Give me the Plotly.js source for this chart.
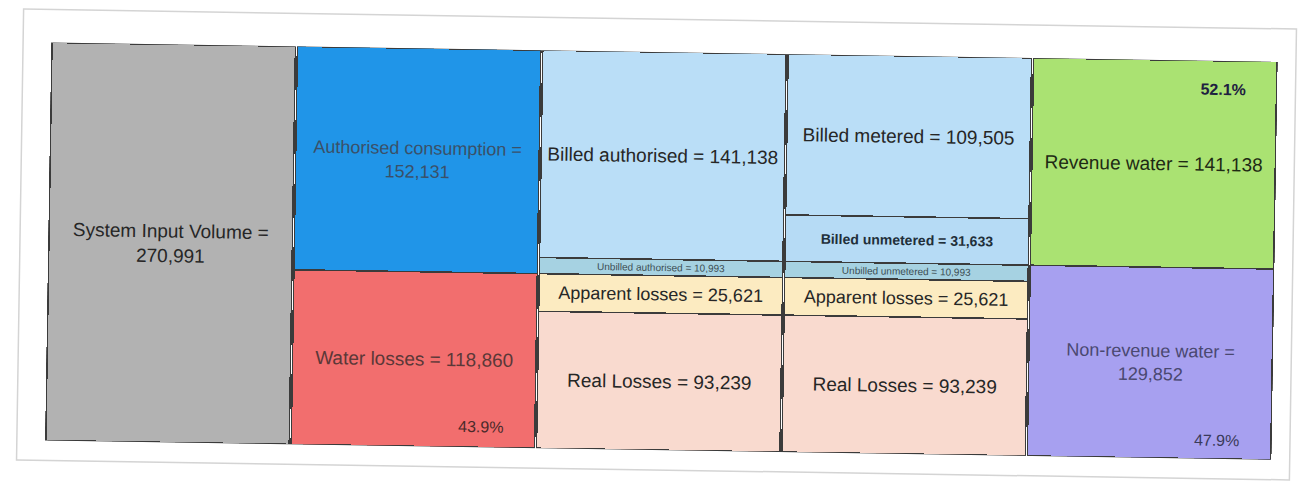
<!DOCTYPE html>
<html><head><meta charset="utf-8">
<script src="https://cdn.plot.ly/plotly-3.0.1.min.js"></script>
<style>
html,body{margin:0;padding:0;background:#fff;overflow:hidden;}
#chart{width:1308px;height:485px;transform:rotate(0.9deg);transform-origin:50% 50%;}
</style>
</head><body><div id="chart"></div>
<script>
// Water balance columns (left to right)
const columns = ['Input', 'Consumption', 'Billing', 'Detail', 'Revenue'];

// Segments, listed bottom-to-top within each column
const segColumn = ['Input', 'Consumption', 'Consumption', 'Billing', 'Billing', 'Billing', 'Billing',
                   'Detail', 'Detail', 'Detail', 'Detail', 'Detail', 'Revenue', 'Revenue'];
const segLabel = ['System Input Volume =<br>', 'Water losses = ', 'Authorised consumption =<br>',
                  'Real Losses = ', 'Apparent losses = ', 'Unbilled authorised = ', 'Billed authorised = ',
                  'Real Losses = ', 'Apparent losses = ', 'Unbilled unmetered = ', 'Billed unmetered = ', 'Billed metered = ',
                  'Non-revenue water =<br>', 'Revenue water = '];
const segValue = [270991, 118860, 152131,
                  93239, 25621, 10993, 141138,
                  93239, 25621, 10993, 31633, 109505,
                  129852, 141138];

// Percentage notes
const pctText = ['43.9%', '52.1%', '47.9%'];
const pctColumn = ['Consumption', 'Revenue', 'Revenue'];

// Styles (kept separate from data)
const segColor = ['#b2b2b2', '#f26e6e', '#2095e8',
                  '#f9dacf', '#fcebc1', '#a6d2e2', '#badef7',
                  '#f9dacf', '#fcebc1', '#a6d2e2', '#b6dbf5', '#badef7',
                  '#a7a0f0', '#aae272'];
const segFont = [19, 19, 18, 19, 18, 10, 19, 19, 18, 10, 14, 19, 18, 19];
const segBold = [false, false, false, false, false, false, false, false, false, false, true, false, false, false];
const segTextColor = ['#262626', '#5b3838', '#3a5068', '#262626', '#262626', '#3d4f55', '#262626',
                      '#262626', '#262626', '#3d4f55', '#1f2f3a', '#262626', '#4a4870', '#1e2a14'];

const fmt = v => v.toLocaleString('en-US');

const traces = segValue.map((v, i) => ({
  type: 'bar',
  x: [segColumn[i]],
  y: [v],
  text: [segLabel[i] + fmt(v)],
  textposition: 'inside',
  insidetextanchor: 'middle',
  constraintext: 'none',
  textfont: {family: 'Liberation Sans, Arial, sans-serif', size: segFont[i], color: segTextColor[i],
             weight: segBold[i] ? 'bold' : 'normal'},
  marker: {color: segColor[i], line: {color: '#3b3b3b', width: 1.5}},
  hoverinfo: 'skip',
  showlegend: false
}));

const total = segValue[0];
const annotations = [
  {x: pctColumn[0], y: 0, xref: 'x', yref: 'y', text: pctText[0], showarrow: false,
   xanchor: 'right', yanchor: 'bottom', xshift: 92, yshift: 10,
   font: {family: 'Liberation Sans, Arial, sans-serif', size: 16, color: '#4a2a2a'}},
  {x: pctColumn[1], y: total, xref: 'x', yref: 'y', text: '<b>' + pctText[1] + '</b>', showarrow: false,
   xanchor: 'right', yanchor: 'top', xshift: 93, yshift: -18,
   font: {family: 'Liberation Sans, Arial, sans-serif', size: 16, color: '#1e2040'}},
  {x: pctColumn[2], y: 0, xref: 'x', yref: 'y', text: pctText[2], showarrow: false,
   xanchor: 'right', yanchor: 'bottom', xshift: 92, yshift: 8,
   font: {family: 'Liberation Sans, Arial, sans-serif', size: 16, color: '#3a3a5a'}}
];

const layout = {
  width: 1308, height: 485,
  margin: {l: 48, r: 33, t: 52, b: 35},
  paper_bgcolor: '#ffffff', plot_bgcolor: '#ffffff',
  barmode: 'stack', bargap: 0.008,
  xaxis: {type: 'category', categoryarray: columns, showticklabels: false, showgrid: false, zeroline: false, showline: false, ticks: ''},
  yaxis: {range: [0, total], showticklabels: false, showgrid: false, zeroline: false, showline: false, ticks: ''},
  annotations: annotations,
  shapes: [{type: 'rect', xref: 'paper', yref: 'paper', x0: -0.0228, x1: 1.0147, y0: -0.05, y1: 1.083,
            line: {color: '#d4d4d4', width: 1.5}, fillcolor: 'rgba(0,0,0,0)', layer: 'below'}],
  font: {family: 'Liberation Sans, Arial, sans-serif'}
};

Plotly.newPlot('chart', traces, layout, {displayModeBar: false, staticPlot: true});
</script>
</body></html>
